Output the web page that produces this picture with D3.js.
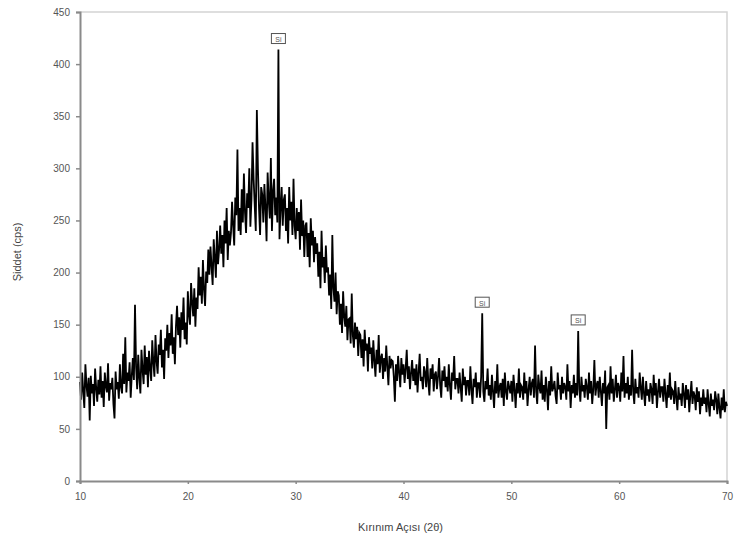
<!DOCTYPE html>
<html>
<head>
<meta charset="utf-8">
<script src="https://cdn.jsdelivr.net/npm/d3@7"></script>
<style>
  body { margin: 0; background: #fff; }
  svg text { font-family: "Liberation Sans", Arial, sans-serif; }
</style>
</head>
<body>
<svg id="chart" width="737" height="544"></svg>
<script>
// 2θ from 10.0 to 70.0, step 0.1 (one row = one degree)
var startAngle = 10.0;
var stepAngle = 0.1;
var intensity = [
  95,78,104,86,70,112,92,81,99,58,
  101,84,93,72,108,89,76,97,83,110,
  80,96,71,104,91,85,113,77,94,88,
  99,74,60,105,88,95,79,112,90,84,
  122,93,138,85,104,96,114,80,101,118,
  97,169,110,88,121,99,84,126,107,93,
  130,102,119,90,125,108,96,135,114,100,
  140,115,103,131,121,145,109,126,98,137,
  125,150,118,142,130,160,122,138,112,149,
  168,140,157,128,162,145,176,136,152,131,
  182,160,150,190,171,158,185,148,176,165,
  205,178,196,170,212,184,168,201,190,222,
  198,225,206,188,232,214,195,240,208,222,
  245,218,236,205,250,228,262,212,240,226,
  238,268,245,226,272,255,318,240,262,236,
  280,248,295,258,238,276,262,300,244,270,
  325,290,265,240,356,300,262,236,282,275,
  248,285,262,230,296,270,252,310,240,278,
  290,255,272,248,414,232,262,282,245,270,
  275,240,262,228,282,250,268,236,290,245,
  232,262,240,258,222,270,235,250,215,245,
  248,215,238,205,252,226,240,210,234,218,
  228,196,220,185,240,205,215,190,226,200,
  205,178,198,165,236,185,172,200,160,182,
  178,150,170,142,182,158,148,168,135,155,
  156,132,180,140,128,152,136,148,120,142,
  140,118,136,110,145,125,132,105,138,122,
  128,108,135,115,100,126,112,140,104,118,
  122,98,118,105,130,110,92,120,108,116,
  115,100,76,112,96,120,104,90,118,102,
  112,94,108,126,98,110,88,104,116,96,
  108,92,112,85,104,122,96,100,88,110,
  104,90,118,95,82,108,98,112,86,102,
  105,88,100,118,92,80,106,96,110,90,
  100,86,112,92,78,104,96,120,88,98,
  98,84,104,90,76,108,92,100,82,96,
  96,82,110,88,74,98,90,104,80,94,
  94,80,100,161,86,76,96,88,108,82,
  92,78,102,86,70,96,84,112,80,90,
  94,80,98,72,104,86,78,96,90,84,
  96,76,102,88,70,94,84,108,80,92,
  90,78,104,84,96,72,88,100,82,94,
  98,80,130,86,74,102,90,84,106,78,
  92,76,100,88,68,96,82,110,86,90,
  96,82,74,104,88,92,78,100,84,94,
  90,78,112,86,96,70,92,84,102,80,
  94,82,144,88,76,100,86,92,80,98,
  90,78,104,84,96,74,88,116,82,92,
  96,80,100,86,72,94,84,106,50,90,
  92,78,110,84,98,76,88,102,80,94,
  90,76,104,86,120,80,94,84,100,78,
  92,82,126,86,74,98,84,90,80,104,
  90,78,100,84,72,96,82,88,76,94,
  88,74,102,82,94,70,86,98,80,90,
  90,76,98,84,70,92,80,104,78,88,
  86,74,96,80,68,90,78,84,72,94,
  84,70,92,78,88,66,82,96,74,86,
  82,68,90,76,86,64,80,72,88,74,
  80,66,88,74,62,84,72,78,68,86,
  78,64,84,70,60,80,68,88,66,76,
  72
];

// labelled peaks (Si reflections)
var peakAngles = [28.4, 47.3, 56.2];
var peakLabels = ["Si", "Si", "Si"];
var peakHeights = [414, 161, 144];

var xTicks = [10, 20, 30, 40, 50, 60, 70];
var yTicks = [0, 50, 100, 150, 200, 250, 300, 350, 400, 450];

var svg = d3.select('#chart');
var margin = {top: 12, right: 10, bottom: 63, left: 80};
var width = 737 - margin.left - margin.right;
var height = 544 - margin.top - margin.bottom;

var x = d3.scaleLinear().domain([10, 70]).range([0, width]);
var y = d3.scaleLinear().domain([0, 450]).range([height, 0]);

var g = svg.append('g')
  .attr('transform', 'translate(' + margin.left + ',' + margin.top + ')');

// plot area frame (top / right)
g.append('path')
  .attr('d', 'M0,0H' + width + 'V' + height)
  .attr('fill', 'none')
  .attr('stroke', '#d4d4d4')
  .attr('stroke-width', 1.5);

var pts = intensity.map(function(v, i) {
  return [startAngle + i * stepAngle, v];
});

var line = d3.line()
  .x(function(d) { return x(d[0]); })
  .y(function(d) { return y(d[1]); });

// the scan is very dense in the original, a heavier stroke fills the band
g.append('path')
  .datum(pts)
  .attr('fill', 'none')
  .attr('stroke', '#000')
  .attr('stroke-width', 1.8)
  .attr('stroke-linejoin', 'miter')
  .attr('d', line);

// peak labels
var lab = g.selectAll('g.peak')
  .data(peakAngles)
  .enter()
  .append('g')
  .attr('class', 'peak')
  .attr('transform', function(d, i) {
    return 'translate(' + x(d) + ',' + (y(peakHeights[i]) - 10) + ')';
  });
lab.append('rect')
  .attr('x', -7).attr('y', -6)
  .attr('width', 14).attr('height', 10)
  .attr('fill', '#fff')
  .attr('stroke', '#555')
  .attr('stroke-width', 1);
lab.append('text')
  .attr('text-anchor', 'middle')
  .attr('y', 2.5)
  .attr('font-size', '7px')
  .attr('fill', '#555')
  .text(function(d, i) { return peakLabels[i]; });

// axes
var xAxis = g.append('g')
  .attr('transform', 'translate(0,' + height + ')')
  .call(d3.axisBottom(x).tickValues(xTicks).tickSize(3).tickPadding(9));
var yAxis = g.append('g')
  .call(d3.axisLeft(y).tickValues(yTicks).tickSize(4).tickPadding(6));

[xAxis, yAxis].forEach(function(a) {
  a.select('.domain').attr('stroke', '#8a8a8a').attr('stroke-width', 2);
  a.selectAll('.tick line').attr('stroke', '#8a8a8a').attr('stroke-width', 1.5);
  a.selectAll('.tick text').attr('font-size', '10px').attr('fill', '#555')
    .style('font-family', '"Liberation Sans", Arial, sans-serif');
});

// axis titles
svg.append('text')
  .attr('x', margin.left + width / 2 - 3)
  .attr('y', 531)
  .attr('text-anchor', 'middle')
  .attr('font-size', '11px')
  .attr('fill', '#444')
  .text('Kırınım Açısı (2θ)');

svg.append('text')
  .attr('transform', 'translate(21,252) rotate(-90)')
  .attr('text-anchor', 'middle')
  .attr('font-size', '11px')
  .attr('fill', '#444')
  .text('Şiddet (cps)');
</script>
</body>
</html>
